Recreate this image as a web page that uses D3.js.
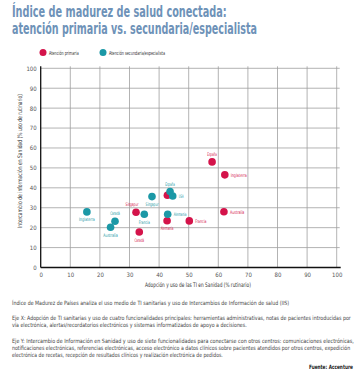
<!DOCTYPE html>
<html>
<head>
<meta charset="utf-8">
<script src="https://cdn.jsdelivr.net/npm/d3@7"></script>
<style>
  body { margin: 0; background: #fff; }
  svg { display: block; font-family: "Liberation Sans Narrow", "DejaVu Sans Condensed", "Roboto Condensed", sans-serif; }
</style>
</head>
<body>
<div id="chart"></div>
<script>
// Índice de madurez de salud conectada — scatter, primaria vs. secundaria

const countries = ['España', 'Inglaterra', 'Australia', 'Francia', 'Alemania', 'Canadá', 'Singapur', 'USA'];
const primariaX = [57.9, 62.2, 61.9, 50.2, 42.7, 33.3, 32.2, 42.8];
const primariaY = [53.0, 46.5, 28.0, 23.4, 23.5, 17.8, 27.7, 36.3];
const secundariaX = [43.7, 15.6, 23.6, 35.0, 42.9, 25.1, 37.6, 44.6];
const secundariaY = [38.1, 27.9, 20.2, 26.7, 26.7, 23.2, 35.6, 35.9];
const xTicks = [0, 10, 20, 30, 40, 50, 60, 70, 80, 90, 100];
const yTicks = [0, 10, 20, 30, 40, 50, 60, 70, 80, 90, 100];

const seriesNames = ['Atención primaria', 'Atención secundaria/especialista'];
const colors = ['#d4134a', '#1b98a6'];

// label placement per point (style, not data)
const primariaLabelPos = { 'España': 'above', 'Inglaterra': 'right', 'Australia': 'right', 'Francia': 'right',
  'Alemania': 'below', 'Canadá': 'below', 'Singapur': 'aboveleft', 'USA': 'none' };
const secundariaLabelPos = { 'España': 'above', 'Inglaterra': 'below', 'Australia': 'below', 'Francia': 'below',
  'Alemania': 'right', 'Canadá': 'above', 'Singapur': 'below', 'USA': 'right' };

const W = 358, H = 382;
const svg = d3.select('#chart').append('svg').attr('width', W).attr('height', H);

// squeeze a text horizontally to a given width (condensed look), anchored at (x,y)
function fitText(sel, x, y, w, anchor) {
  const natural = sel.node().getComputedTextLength() || w;
  const sx = w / natural;
  const x0 = anchor === 'middle' ? x - w / 2 : anchor === 'end' ? x - w : x;
  sel.attr('x', 0).attr('y', 0).attr('text-anchor', 'start')
    .attr('transform', `translate(${x0},${y}) scale(${sx},1)`);
  return sel;
}

// ─── Title ────────────────────────────────────────────────────────────────────
const titleColor = '#6e92b8';
fitText(svg.append('text').attr('font-size', 15).attr('font-weight', 'bold').attr('fill', titleColor)
  .text('Índice de madurez de salud conectada:'), 12, 17, 215);
fitText(svg.append('text').attr('font-size', 15).attr('font-weight', 'bold').attr('fill', titleColor)
  .text('atención primaria vs. secundaria/especialista'), 12, 34, 245);

// ─── Legend ───────────────────────────────────────────────────────────────────
const legendX = [43, 103];
seriesNames.forEach((n, i) => {
  svg.append('circle').attr('cx', legendX[i]).attr('cy', 52.5).attr('r', 3.5).attr('fill', colors[i]);
  fitText(svg.append('text').attr('font-size', 5.5).attr('fill', '#333').text(n),
    legendX[i] + 6, 54.5, n.length * 1.75);
});

// ─── Plot ─────────────────────────────────────────────────────────────────────
const x = d3.scaleLinear().domain([0, 100]).range([40.7, 336.7]);
const y = d3.scaleLinear().domain([0, 100]).range([267.5, 68.3]);

const grid = svg.append('g');
grid.selectAll('line.v').data(xTicks.slice(1)).enter().append('line')
  .attr('x1', d => x(d)).attr('x2', d => x(d)).attr('y1', y(100) - 2).attr('y2', y(0))
  .attr('stroke', '#a0a0a0').attr('stroke-width', 0.8);
grid.selectAll('line.h').data(yTicks.slice(1)).enter().append('line')
  .attr('x1', x(0)).attr('x2', x(100) + 3).attr('y1', d => y(d)).attr('y2', d => y(d))
  .attr('stroke', '#a0a0a0').attr('stroke-width', 0.8);

// axes
const xAxis = svg.append('g').attr('transform', `translate(0,${y(0)})`)
  .call(d3.axisBottom(x).tickValues(xTicks).tickSize(0).tickPadding(5));
const yAxis = svg.append('g').attr('transform', `translate(${x(0)},0)`)
  .call(d3.axisLeft(y).tickValues(yTicks).tickSize(0).tickPadding(4));
[xAxis, yAxis].forEach(a => {
  a.select('.domain').attr('stroke', '#111').attr('stroke-width', 1.3);
  a.selectAll('text').attr('font-size', 6).attr('fill', '#555')
    .attr('font-family', '"Liberation Sans Narrow", "DejaVu Sans Condensed", sans-serif');
});
xAxis.select('.domain').attr('d', `M${x(0)},0H${x(100) + 4}`);
yAxis.select('.domain').attr('d', `M0,${y(0)}V${y(100) - 2}`);

fitText(svg.append('text').attr('font-size', 6.2).attr('fill', '#333')
  .text('Adopción y uso de las TI en Sanidad (% rutinario)'), 198, 287, 106, 'middle');

const yTitle = svg.append('text').attr('font-size', 6.2).attr('fill', '#333')
  .text('Intercambio de información en Sanidad (% uso de rutinario)');
const yTitleW = 134;
const yTitleSx = yTitleW / (yTitle.node().getComputedTextLength() || yTitleW);
yTitle.attr('x', 0).attr('y', 0)
  .attr('transform', `translate(22,${161 + yTitleW / 2}) rotate(-90) scale(${yTitleSx},1)`);

// ─── Points ───────────────────────────────────────────────────────────────────
const series = [
  { xs: primariaX, ys: primariaY, pos: primariaLabelPos, color: colors[0] },
  { xs: secundariaX, ys: secundariaY, pos: secundariaLabelPos, color: colors[1] },
];

series.forEach(s => {
  const pts = countries.map((c, i) => ({ name: c, x: s.xs[i], y: s.ys[i], pos: s.pos[c] }));
  const g = svg.append('g');
  g.selectAll('circle').data(pts).enter().append('circle')
    .attr('cx', d => x(d.x)).attr('cy', d => y(d.y)).attr('r', 3.8).attr('fill', s.color);
  pts.filter(d => d.pos !== 'none').forEach(d => {
    const px = x(d.x), py = y(d.y);
    const lx = d.pos === 'right' ? px + 6 : d.pos === 'aboveleft' ? px - 4 : px;
    const ly = d.pos.startsWith('above') ? py - 6 : d.pos === 'below' ? py + 9.5 : py + 1.8;
    fitText(g.append('text').attr('font-size', 4.8).attr('fill', s.color).text(d.name),
      lx, ly, d.name.length * 1.6, d.pos === 'right' ? 'start' : 'middle');
  });
});

// ─── Footnotes ────────────────────────────────────────────────────────────────
const notes = [
  { t: 'Índice de Madurez de Países analiza el uso medio de TI sanitarias y uso de Intercambios de Información de salud (IIS)', y: 305, w: 278 },
  { t: 'Eje X: Adopción de TI sanitarias y uso de cuatro funcionalidades principales: herramientas administrativas, notas de pacientes introducidas por', y: 320, w: 340 },
  { t: 'vía electrónica, alertas/recordatorios electrónicos y sistemas informatizados de apoyo a decisiones.', y: 327, w: 235 },
  { t: 'Eje Y: Intercambio de Información en Sanidad y uso de siete funcionalidades para conectarse con otros centros: comunicaciones electrónicas,', y: 343, w: 342 },
  { t: 'notificaciones electrónicas, referencias electrónicas, acceso electrónico a datos clínicos sobre pacientes atendidos por otros centros, expedición', y: 350, w: 339 },
  { t: 'electrónica de recetas, recepción de resultados clínicos y realización electrónica de pedidos.', y: 357, w: 211 },
];
notes.forEach(n => {
  fitText(svg.append('text').attr('font-size', 5.8).attr('fill', '#444').text(n.t), 12, n.y, n.w);
});
fitText(svg.append('text').attr('font-size', 6).attr('font-weight', 'bold').attr('fill', '#222')
  .text('Fuente: Accenture'), 353, 368.5, 44, 'end');
</script>
</body>
</html>
